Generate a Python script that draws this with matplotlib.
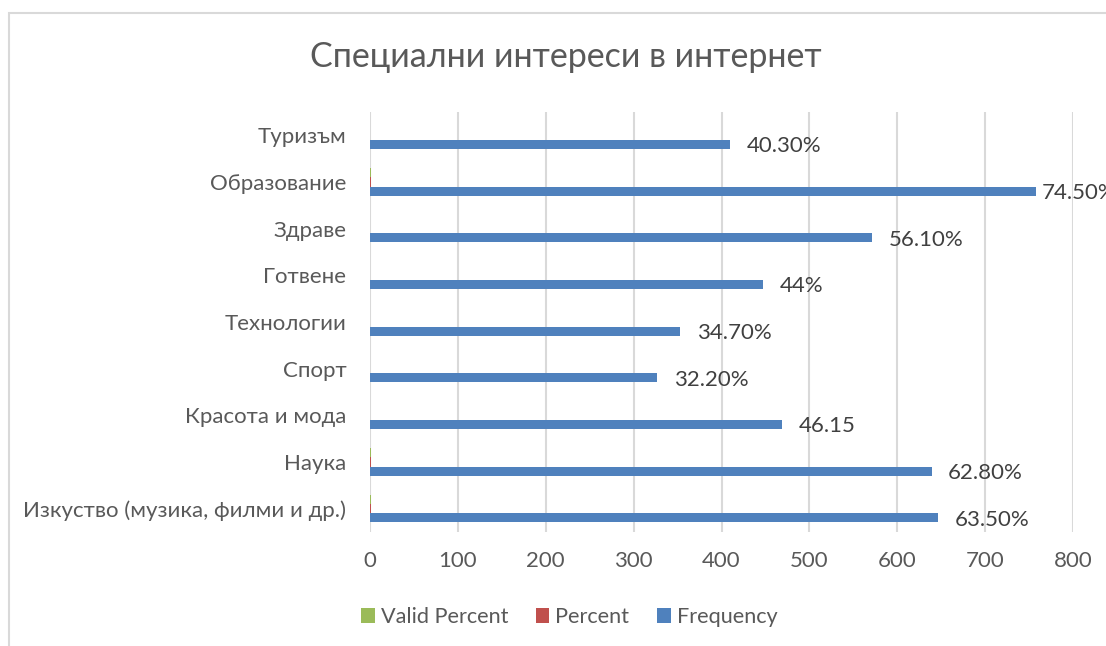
import matplotlib.pyplot as plt
from matplotlib.patches import Rectangle
import numpy as np

# categories from bottom to top, as Excel draws them
categories = ["Изкуство (музика, филми и др.)", "Наука", "Красота и мода", "Спорт",
              "Технологии", "Готвене", "Здраве", "Образование", "Туризъм"]
frequency = [646, 639, 469, 327, 353, 447, 571, 758, 410]
percent = [0.635, 0.628, 0.4615, 0.322, 0.347, 0.44, 0.561, 0.745, 0.403]
valid_percent = [0.635, 0.628, 0.4615, 0.322, 0.347, 0.44, 0.561, 0.745, 0.403]
labels = ["63.50%", "62.80%", "46.15", "32.20%", "34.70%", "44%", "56.10%", "74.50%", "40.30%"]
xticks = [0, 100, 200, 300, 400, 500, 600, 700, 800]

blue = '#4F81BD'
red = '#C0504D'
green = '#9BBB59'
txt = '#595959'

plt.rcParams['font.family'] = ['Lato', 'DejaVu Sans']

W, H = 1106, 646
fig = plt.figure(figsize=(W / 100, H / 100), dpi=100)
ax = fig.add_axes([370 / W, 1 - 532 / H, (1073 - 370) / W, (532 - 112) / H])

y = np.arange(len(categories))
bw = 0.193
ax.barh(y - bw, frequency, height=bw, color=blue, label='Frequency', zorder=3)
ax.barh(y, percent, height=bw, color=red, label='Percent', zorder=3)
ax.barh(y + bw, valid_percent, height=bw, color=green, label='Valid Percent', zorder=3)

# data labels; the longest one is pulled in close to its bar like Excel does
for yi, v, s in zip(y, frequency, labels):
    dx = 4 if v > 700 else 12
    ax.annotate(s, xy=(v, yi - bw), xytext=(dx, -1.5), textcoords='offset points',
                ha='left', va='center', fontsize=16, color='#404040',
                annotation_clip=False)

ax.set_xlim(0, 800)
ax.set_ylim(-0.5, len(categories) - 0.5)
ax.set_xticks(xticks)
ax.set_yticks(y)
ax.set_yticklabels(categories)
ax.tick_params(axis='both', length=0, labelsize=16, labelcolor=txt)
ax.tick_params(axis='y', pad=17)
ax.tick_params(axis='x', pad=14)
ax.grid(axis='x', color='#D9D9D9', linewidth=1.5, zorder=0)
for sp in ax.spines.values():
    sp.set_visible(False)

fig.text(566 / W, 1 - 57 / H, 'Специални интереси в интернет', ha='center', va='center',
         fontsize=24.5, color=txt)

handles, hlabels = ax.get_legend_handles_labels()
fig.legend(handles[::-1], hlabels[::-1], loc='center', ncol=3,
           bbox_to_anchor=(569 / W, 1 - 617 / H), frameon=False, fontsize=15.6,
           labelcolor=txt, handlelength=0.64, handleheight=0.64, handletextpad=0.27,
           columnspacing=1.27)

# chart border
fig.patches.append(Rectangle((9 / W, -0.1), 1.2, 1 - 13 / H + 0.1, transform=fig.transFigure,
                             fill=False, edgecolor='#D9D9D9', linewidth=1.5))

fig.savefig('out.png', dpi=100)
